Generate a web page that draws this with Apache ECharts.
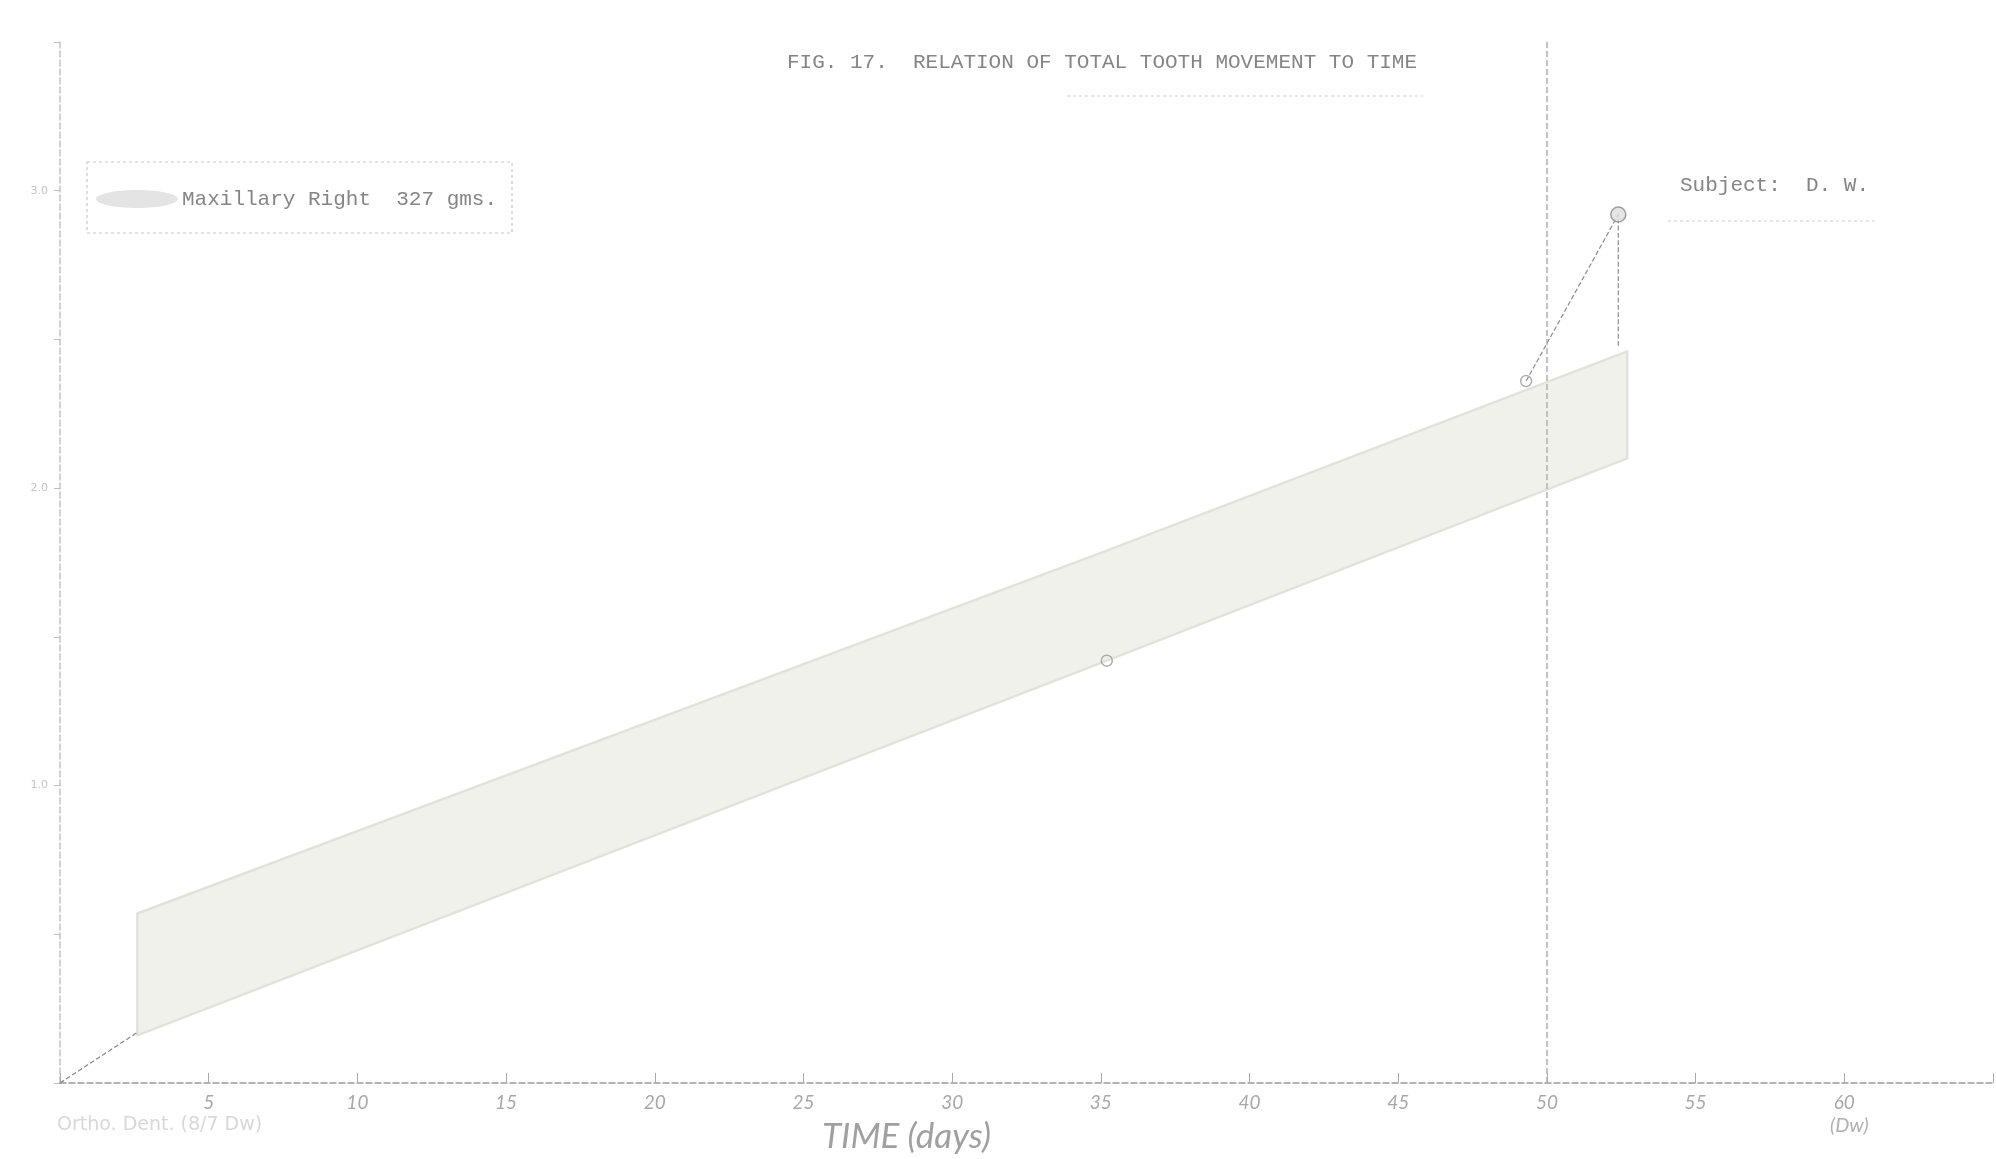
<!DOCTYPE html>
<html>
<head>
<meta charset="utf-8">
<script src="https://cdn.jsdelivr.net/npm/echarts@6/dist/echarts.min.js"></script>
<style>
html,body{margin:0;padding:0;background:#fff;}
#chart{width:1996px;height:1159px;}
</style>
</head>
<body>
<div id="chart"></div>
<script>
// ---- data ----
const bandDays  = [2.6, 35.2, 52.7];      // extent of the shaded (highlighted) band
const bandLower = [0.16, 1.42, 2.10];     // lower edge of band (mm)
const bandWidth = [0.41, 0.37, 0.36];     // band thickness (mm)
const startLine = [[0, 0], [2.6, 0.17]];  // origin to start of band
const endLine   = [[49.3, 2.36], [52.4, 2.92], [52.4, 2.47]];
const points    = [[35.2, 1.42], [49.3, 2.36]];
const lastPoint = [[52.4, 2.92]];
const markDay   = 50;
const xTicks = [5,10,15,20,25,30,35,40,45,50,55,60];
const yTicks = [1, 2, 3];

const chart = echarts.init(document.getElementById('chart'));
const mono = '"Liberation Mono", "DejaVu Sans Mono", monospace';
const hand = 'Lato, "DejaVu Sans", sans-serif';

const bandData = bandDays.map((d, i) => [d, bandLower[i], bandLower[i] + bandWidth[i]]);

function renderBand(params, api) {
  if (params.dataIndex !== 0) return null;
  const lower = bandData.map(p => api.coord([p[0], p[1]]));
  const upper = bandData.map(p => api.coord([p[0], p[2]])).reverse();
  const pts = lower.concat(upper);
  return {
    type: 'polygon', shape: { points: pts },
    style: { fill: '#f1f1ec', stroke: '#e2e2dc', lineWidth: 2.5, lineJoin: 'round' }
  };
}

const option = {
  backgroundColor: '#ffffff',
  animation: false,
  title: {
    text: 'FIG. 17.  RELATION OF TOTAL TOOTH MOVEMENT TO TIME',
    left: 1097, top: 47, textAlign: 'center',
    textStyle: { fontFamily: mono, fontSize: 21, fontWeight: 'normal', color: '#858585' }
  },
  grid: { left: 60, right: 1, top: 42, bottom: 76 },
  xAxis: {
    type: 'value', min: 0, max: 65, interval: 5,
    axisLine: { show: true, lineStyle: { color: '#9a9a9a', type: 'dashed', width: 1.5 } },
    axisTick: { show: true, inside: true, length: 10, lineStyle: { color: '#aaaaaa' } },
    axisLabel: {
      margin: 10, fontFamily: hand, fontStyle: 'italic', fontSize: 19, color: '#a8a8a8',
      formatter: v => xTicks.indexOf(v) >= 0 ? String(v) : ''
    },
    splitLine: { show: false },
    name: 'TIME (days)', nameLocation: 'middle', nameGap: 36,
    nameTextStyle: { fontFamily: hand, fontStyle: 'italic', fontSize: 35, color: '#a0a0a0', padding: [0, 0, 0, -240] }
  },
  yAxis: {
    type: 'value', min: 0, max: 3.5, interval: 0.5,
    axisLine: { show: true, lineStyle: { color: '#c4c4c4', type: 'dashed', width: 1.5 } },
    axisTick: { show: true, length: 6, lineStyle: { color: '#c0c0c0' } },
    axisLabel: {
      margin: 12, fontFamily: '"DejaVu Sans", sans-serif', fontSize: 11, color: '#c4c4c4',
      formatter: v => yTicks.indexOf(v) >= 0 ? v.toFixed(1) : ''
    },
    splitLine: { show: false }
  },
  series: [
    {
      type: 'custom', renderItem: renderBand, data: bandData, silent: true, z: 2,
      encode: { x: 0, y: [1, 2] },
      markLine: {
        silent: true, symbol: 'none', label: { show: false },
        lineStyle: { color: '#b0b0b0', type: 'dashed', width: 1.5 },
        data: [{ xAxis: markDay }]
      }
    },
    {
      type: 'line', symbol: 'none', data: startLine,
      lineStyle: { color: '#888888', type: 'dashed', width: 1.2 }, z: 3
    },
    {
      type: 'line', symbol: 'none', data: endLine,
      lineStyle: { color: '#8a8a8a', type: 'dashed', width: 1.2 }, z: 3
    },
    {
      type: 'scatter', data: points, symbol: 'circle', symbolSize: 11,
      itemStyle: { color: 'rgba(255,255,255,0)', borderColor: '#9a9a9a', borderWidth: 1.5 }, z: 4
    },
    {
      type: 'scatter', data: lastPoint, symbol: 'circle', symbolSize: 15,
      itemStyle: { color: '#dedede', borderColor: '#8a8a8a', borderWidth: 1.5 }, z: 4
    }
  ],
  graphic: [
    { type: 'rect', z: 10, shape: { x: 87, y: 162, width: 425, height: 71 },
      style: { fill: 'none', stroke: '#c8c8c8', lineWidth: 1.2, lineDash: [3, 3] } },
    { type: 'ellipse', z: 10, shape: { cx: 137, cy: 199, rx: 41, ry: 9 },
      style: { fill: '#e4e4e4', stroke: 'none' } },
    { type: 'text', z: 10, left: 182, top: 189,
      style: { text: 'Maxillary Right  327 gms.', font: '21px "Liberation Mono", monospace', fill: '#858585' } },
    { type: 'text', z: 10, left: 1680, top: 175,
      style: { text: 'Subject:  D. W.', font: '21px "Liberation Mono", monospace', fill: '#858585' } },
    { type: 'line', z: 10, shape: { x1: 1668, y1: 221, x2: 1877, y2: 221 },
      style: { stroke: '#d0d0d0', lineWidth: 1, lineDash: [3, 3] } },
    { type: 'line', z: 10, shape: { x1: 1067, y1: 96, x2: 1423, y2: 96 },
      style: { stroke: '#d0d0d0', lineWidth: 1.2, lineDash: [3, 3] } },
    { type: 'text', z: 10, left: 1830, top: 1116,
      style: { text: '(Dw)', font: 'italic 20px Lato, sans-serif', fill: '#b0b0b0' } },
    { type: 'text', z: 10, left: 57, top: 1116,
      style: { text: 'Ortho. Dent. (8/7 Dw)', font: '19px "DejaVu Sans", sans-serif', fill: '#d8d8d8' } }
  ]
};
chart.setOption(option);
</script>
</body>
</html>
